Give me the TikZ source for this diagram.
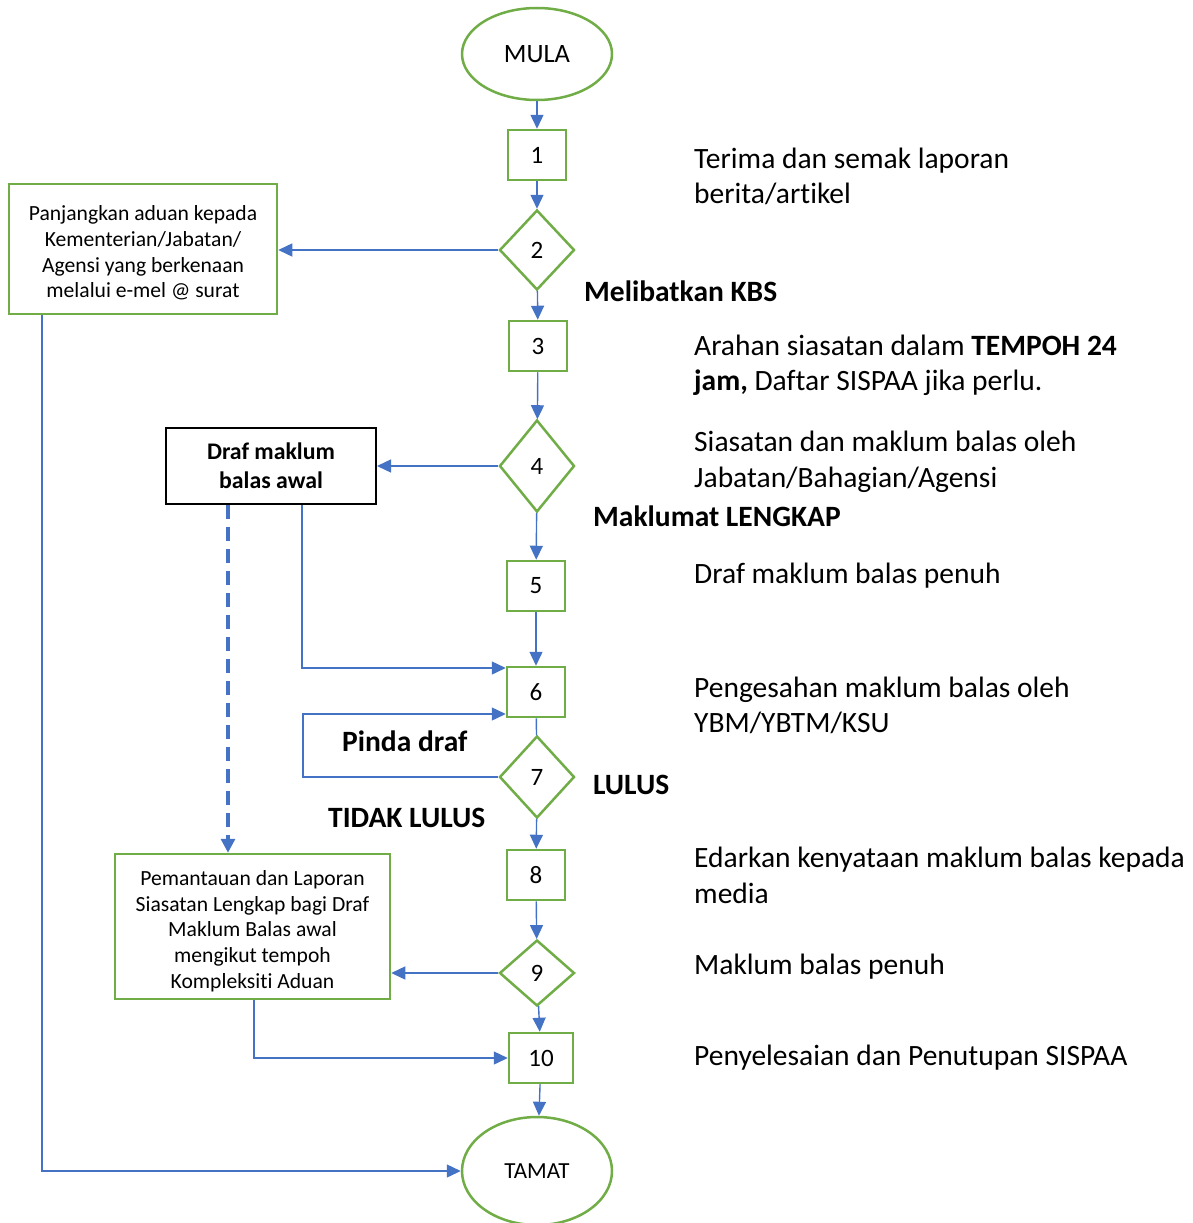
\documentclass[tikz,border=0pt]{standalone}
\usepackage{fontspec}
\setmainfont{Carlito}[Ligatures=NoCommon]
\usetikzlibrary{shapes.geometric,arrows.meta}
\definecolor{flowgreen}{HTML}{70AD47}
\definecolor{flowblue}{HTML}{4472C4}

\begin{document}
\begin{tikzpicture}[x=1pt,y=-1pt,
  every node/.style={inner sep=0pt},
  numfont/.style={font=\fontsize{25}{30}\selectfont},
  stepbox/.style={draw=flowgreen,line width=2.5pt,minimum width=58pt,minimum height=50pt,numfont},
  decision/.style={diamond,draw=flowgreen,line width=2.5pt,minimum width=75pt,minimum height=86pt,numfont},
  terminal/.style={ellipse,draw=flowgreen,line width=2.5pt,minimum width=150pt,numfont},
  sidebox/.style={draw=flowgreen,line width=2.5pt,align=center,font=\fontsize{21.6}{25.7}\selectfont},
  desc/.style={anchor=base west,font=\fontsize{29.5}{36}\selectfont},
  tag/.style={anchor=base west,font=\fontsize{29.5}{36}\selectfont\bfseries},
  flow/.style={draw=flowblue,line width=1.4pt,-{Triangle[length=14pt,width=13pt]}},
  link/.style={draw=flowblue,line width=1.4pt},
]
\useasboundingbox (0,0) rectangle (1193,1223);

% main column
\node[terminal,minimum height=92pt,font=\fontsize{26.5}{30}\selectfont] (mula) at (537,54) {MULA};
\node[stepbox] (s1) at (537,155) {1};
\node[decision,minimum height=80pt] (d2) at (537,250) {2};
\node[stepbox] (s3) at (538,346) {3};
\node[decision,minimum height=92pt] (d4) at (537,466) {4};
\node[stepbox] (s5) at (536,586) {5};
\node[stepbox] (s6) at (536,692) {6};
\node[decision,minimum height=82pt] (d7) at (537,777) {7};
\node[stepbox] (s8) at (536,875) {8};
\node[decision,minimum height=66pt] (d9) at (537,973) {9};
\node[stepbox,minimum width=64pt] (s10) at (541,1058) {10};
\node[terminal,minimum height=108pt,font=\fontsize{23}{27}\selectfont] (tamat) at (537,1171) {TAMAT};

% side boxes (the struts on the first lines lower the text a little)
\node[sidebox,minimum width=268pt,minimum height=130pt] (fwd) at (143,249)
  {\rule{0pt}{23pt}Panjangkan aduan kepada\\Kementerian/Jabatan/\\Agensi yang berkenaan\\melalui e-mel @ surat};
\node[draw=black,line width=2pt,minimum width=210pt,minimum height=76pt,align=center,
  font=\fontsize{23.8}{29}\selectfont\bfseries] (draf) at (271,466) {Draf maklum\\balas awal};
\node[sidebox,minimum width=275pt,minimum height=145pt] (pantau) at (252.5,926.5)
  {\rule{0pt}{24pt}Pemantauan dan Laporan\\Siasatan Lengkap bagi Draf\\Maklum Balas awal\\mengikut tempoh\\Kompleksiti Aduan};

% step descriptions
\node[desc] (t1a) at (694,168) {Terima dan semak laporan};
\node[desc] (t1b) at (694,203) {berita/artikel};
\node[desc] (t3a) at (694,355) {Arahan siasatan dalam \textbf{TEMPOH 24}};
\node[desc] (t3b) at (694,390) {\textbf{jam,} Daftar SISPAA jika perlu.};
\node[desc] (t4a) at (694,451) {Siasatan dan maklum balas oleh};
\node[desc] (t4b) at (694,487) {Jabatan/Bahagian/Agensi};
\node[desc] (t5) at (694,583) {Draf maklum balas penuh};
\node[desc] (t6a) at (694,697) {Pengesahan maklum balas oleh};
\node[desc] (t6b) at (694,732) {YBM/YBTM/KSU};
\node[desc] (t8a) at (694,867) {Edarkan kenyataan maklum balas kepada};
\node[desc] (t8b) at (694,903) {media};
\node[desc] (t9) at (694,974) {Maklum balas penuh};
\node[desc] (t10) at (694,1065) {Penyelesaian dan Penutupan SISPAA};

% branch labels
\node[tag] (kbs) at (584,301) {Melibatkan KBS};
\node[tag] (lengkap) at (593,526) {Maklumat LENGKAP};
\node[tag] (pinda) at (342,751) {Pinda draf};
\node[tag] (lulus) at (593,794) {LULUS};
\node[tag] (tidak) at (328,827) {TIDAK LULUS};

% main flow
\draw[flow] (mula) -- (s1);
\draw[flow] (s1) -- (d2);
\draw[flow] (d2) -- (s3);
\draw[flow] (s3) -- (d4);
\draw[flow] (d4) -- (s5);
\draw[flow] (s5) -- (s6);
\draw[link] (s6) -- (d7);
\draw[flow] (d7) -- (s8);
\draw[flow] (s8) -- (d9);
\draw[flow] (d9) -- (s10);
\draw[flow] (s10) -- (tamat);

% branches
\draw[flow] (d2.west) -- (fwd.east |- d2.west);
\draw[flow] (d4.west) -- (draf.east |- d4.west);
\draw[flow] (d9.west) -- (pantau.east |- d9.west);
\draw[flow] (draf.south -| 302,0) |- (s6.west |- 0,668);
\draw[flow] (d7.west) -| (303,714) -- (s6.west |- 0,714);
\draw[flow] (pantau.south -| 254,0) |- (s10.west);
\draw[flow] (fwd.south -| 42,0) |- (tamat.west);
\draw[draw=flowblue,line width=3.2pt,dash pattern=on 14pt off 8pt,-{Triangle[length=14pt,width=14pt]}]
  (draf.south -| 228,0) -- (pantau.north -| 228,0);
\end{tikzpicture}
\end{document}
